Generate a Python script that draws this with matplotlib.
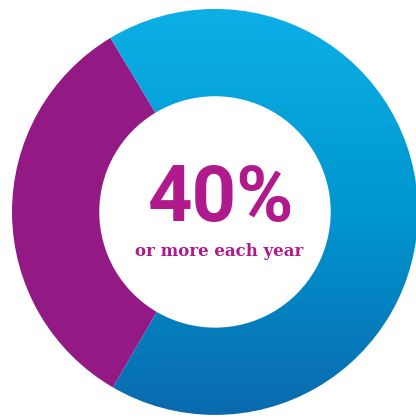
import numpy as np
import matplotlib.pyplot as plt
from matplotlib.colors import LinearSegmentedColormap

# Slice shares read off the ring (purple arc spans roughly 118 degrees)
labels = ['Each year', 'Rest']
shares = [33, 67]
colors = ['#931a85', '#0096d0']
headline = '40%'
subline = 'or more each year'

fig = plt.figure(figsize=(4.16, 4.20), dpi=100)
ax = fig.add_axes([0, 0, 1, 1])

wedges, _ = ax.pie(shares, colors=colors, startangle=121, counterclock=True,
                   radius=1.0, wedgeprops=dict(width=0.43, linewidth=0))

# vertical blue gradient, clipped to the blue wedge
blue_grad = LinearSegmentedColormap.from_list(
    'blue_grad', ['#0a6aae', '#0096d0', '#0cb0e6'])
grad = np.linspace(0, 1, 256).reshape(-1, 1)
img = ax.imshow(grad, cmap=blue_grad, origin='lower', aspect='auto',
                extent=[-1, 1, -1, 1], zorder=1)
img.set_clip_path(wedges[1])
wedges[1].set_facecolor('none')

ax.text(0.03, 0.06, headline, ha='center', va='center', color='#b01a8c',
        fontsize=56, fontweight='bold', family=['Roboto', 'DejaVu Sans'])
ax.text(0.02, -0.195, subline, ha='center', va='center', color='#b01a8c',
        fontsize=12, fontweight='bold', family='DejaVu Serif')

ax.set_xlim(-1.059, 0.99)
ax.set_ylim(-1.025, 1.044)
ax.set_aspect('equal')
ax.axis('off')

fig.savefig('out.png', dpi=100)
